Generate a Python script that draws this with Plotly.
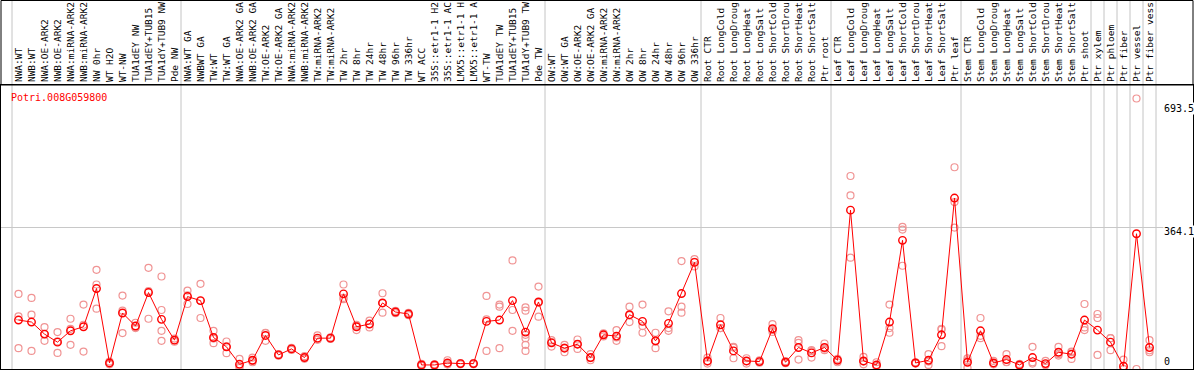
import plotly.graph_objects as go

gene = "Potri.008G059800"

labels = [
    "NWA:WT", "NWB:WT", "NWA:OE-ARK2", "NWB:OE-ARK2", "NWA:miRNA-ARK2", "NWB:miRNA-ARK2",
    "NW 0hr", "WT H2O", "WT-NW", "TUA1dEY NW", "TUA1dEY+TUB15 NW", "TUA1dY+TUB9 NW", "Pde NW",
    "NWA:WT GA", "NWBWT GA", "TW:WT", "TW:WT GA", "NWA:OE-ARK2 GA", "NWB:OE-ARK2 GA",
    "TW:OE-ARK2", "TW:OE-ARK2 GA", "NWA:miRNA-ARK2", "NWB:miRNA-ARK2", "TW:miRNA-ARK2",
    "TW:miRNA-ARK2", "TW 2hr", "TW 8hr", "TW 24hr", "TW 48hr", "TW 96hr", "TW 336hr",
    "WT ACC", "35S::etr1-1 H2O", "35S::etr1-1 ACC", "LMX5::etr1-1 H2O", "LMX5::etr1-1 ACC",
    "WT-TW", "TUA1dEY TW", "TUA1dEY+TUB15 TW", "TUA1dY+TUB9 TW", "Pde TW",
    "OW:WT", "OW:WT GA", "OW:OE-ARK2", "OW:OE-ARK2 GA", "OW:miRNA-ARK2", "OW:miRNA-ARK2",
    "OW 2hr", "OW 8hr", "OW 24hr", "OW 48hr", "OW 96hr", "OW 336hr",
    "Root CTR", "Root LongCold", "Root LongDrought", "Root LongHeat", "Root LongSalt",
    "Root ShortCold", "Root ShortDrought", "Root ShortHeat", "Root ShortSalt", "Ptr root",
    "Leaf CTR", "Leaf LongCold", "Leaf LongDrought", "Leaf LongHeat", "Leaf LongSalt",
    "Leaf ShortCold", "Leaf ShortDrought", "Leaf ShortHeat", "Leaf ShortSalt", "Ptr leaf",
    "Stem CTR", "Stem LongCold", "Stem LongDrought", "Stem LongHeat", "Stem LongSalt",
    "Stem ShortCold", "Stem ShortDrought", "Stem ShortHeat", "Stem ShortSalt", "Ptr shoot",
    "Ptr xylem", "Ptr phloem", "Ptr fiber", "Ptr vessel", "Ptr fiber vessel",
]

means = [
    125.5, 120.4, 89.5, 68.8, 98.0, 108.3, 206.3, 15.5, 143.6, 110.1, 196.0, 127.3, 74.0,
    185.7, 175.4, 80.8, 56.8, 12.1, 22.4, 86.0, 36.1, 51.6, 29.3, 79.1, 79.1, 192.6, 108.3,
    115.2, 169.4, 146.1, 141.0, 10.4, 10.4, 15.5, 13.8, 13.8, 122.1, 125.5, 175.4, 94.6, 171.9,
    67.1, 53.3, 63.6, 29.3, 87.7, 84.3, 139.2, 122.1, 72.3, 117.0, 193.4, 273.3,
    20.7, 113.5, 46.4, 20.7, 19.0, 103.2, 17.3, 55.1, 41.3, 55.1,
    22.4, 407.3, 20.7, 10.4, 120.4, 329.9, 15.5, 22.4, 87.7, 438.3,
    17.3, 98.0, 15.5, 24.2, 10.4, 29.3, 13.8, 43.0, 37.9, 125.5,
    99.8, 68.8, 7.0, 346.75, 55.1,
]

replicates = [
    [192.6, 134.9, 53.3], [182.3, 139.2, 46.4], [107.5, 72.3, 89.5], [94.6, 41.3, 70.6],
    [128.9, 62.0, 103.1], [165.1, 113.5, 44.8], [254.4, 216.6, 154.8], [12, 15, 19],
    [188.2, 149.6, 92.0], [118.6, 104.9, 106.3], [259.5, 128.9, 199.6],
    [237.2, 151.3, 98.0, 72.3], [70, 74, 78],
    [201.1, 166.7, 188.8], [218.3, 130.7, 175], [98.0, 66.2, 78], [70.5, 40.5, 58],
    [25.8, 3, 7], [29.3, 17.3, 21], [92.9, 72.3, 92], [34, 37, 38], [49, 52, 54],
    [26, 29, 33], [86.0, 76, 75], [77, 79, 81], [216.6, 182.3, 179], [113.5, 99.8, 111],
    [123.8, 106.6, 115], [194.2, 144.4, 169], [143, 146, 149], [138, 141, 144],
    [8, 10, 13], [8, 11, 12], [22.4, 12, 12], [12, 14, 15], [12, 14, 15],
    [187.4, 127.3, 46.4], [165.1, 159.9, 53.3], [278.5, 151.3, 98.0],
    [158.2, 149.6, 87.7, 79.1, 62.0, 46.4], [211.4, 134.1, 170],
    [74.0, 57.6, 69], [62.0, 43.0, 55], [75.7, 51.6, 64], [37.9, 22.4, 28],
    [91.1, 83.4, 88], [99.8, 72.3, 81], [159.9, 120.4, 138], [165.1, 110.1, 92.9],
    [92.9, 53.3, 71], [147.9, 98.0, 105], [276.7, 159.9, 144.4], [281.9, 263.0, 275],
    [29.3, 13.8, 19], [130.7, 104.9, 105], [56.8, 27.6, 55], [27.6, 13.8, 20],
    [16, 19, 22], [115.2, 100, 95], [15, 17, 20], [74.0, 24.2, 67.1], [48.2, 29.3, 46],
    [65.4, 48.2, 52],
    [25.8, 17.3, 24], [494.9, 445.1, 285.4], [31.0, 12.1, 19], [17.3, 7, 7],
    [165.1, 104.9, 92.9], [364.3, 357.4, 264.7], [14, 16, 17], [37.9, 10.4, 19],
    [103.2, 58.5, 101], [517.3, 427.9, 362.6],
    [22.4, 3, 27], [130.7, 79.1, 85], [20.7, 12, 14], [37.9, 17.3, 18], [8, 10, 13],
    [56.8, 17.3, 14], [20.7, 10, 11], [56.8, 34.5, 38], [44.8, 25.8, 43],
    [166.7, 106.6, 99.8],
    [141.0, 130.7, 36.1], [79.1, 48.2, 79], [24.2, 0, 0], [693.5, 0], [74.0, 43.0, 48],
]

# group boundaries (between columns)
group_breaks = [-0.5, 12.5, 40.5, 52.5, 62.5, 72.5, 82.5, 83.5, 84.5, 85.5, 86.5, 87.5]

# ---- geometry / style ----
W, H = 1194, 370
ml, mr, mt, mb = 1, 1, 85, 1
plot_w = W - ml - mr
plot_h = H - mt - mb
col_w = 13.0
first_center_px = 18.5
x_lo = -(first_center_px - ml) / col_w
x_hi = x_lo + plot_w / col_w

ymax = max(max(r) for r in replicates)
ytop = ymax * 1.05
ymid = ytop / 2.0
header_top = 1 + (mt - 0.5) / plot_h

mono = "DejaVu Sans Mono"
max_label_chars = 14  # header only has room for this many characters
tick_text = [s[:max_label_chars] for s in labels]

x_idx = list(range(len(labels)))
rep_x = [i for i, r in enumerate(replicates) for _ in r]
rep_y = [v for r in replicates for v in r]

fig = go.Figure()
fig.add_trace(go.Scatter(
    x=rep_x, y=rep_y, mode="markers",
    marker=dict(symbol="circle-open", size=7, color="#f09494", line=dict(width=1.2)),
    hoverinfo="skip", showlegend=False,
))
fig.add_trace(go.Scatter(
    x=x_idx, y=means, mode="lines+markers",
    line=dict(color="#ff0000", width=1),
    marker=dict(symbol="circle-open", size=7.5, color="#ff0000", line=dict(width=1.4)),
    showlegend=False,
))

shapes = []
for b in group_breaks:
    shapes.append(dict(type="line", xref="x", yref="paper", x0=b, x1=b, y0=0, y1=header_top,
                       line=dict(color="#c4c4c4", width=1), layer="below"))
shapes.append(dict(type="rect", xref="paper", yref="paper", x0=0, x1=1, y0=1, y1=header_top,
                   line=dict(color="black", width=1)))

annotations = [
    dict(text=gene, xref="paper", yref="paper", x=(9 - ml) / plot_w, y=(H - mb - 97.5) / plot_h,
         xanchor="left", yanchor="middle", showarrow=False,
         font=dict(family=mono, size=10, color="#ff0000")),
]
label_x = (1163 - ml) / plot_w
for val, txt, shift in [(ymax, f"{ymax:.1f}", -9.5), (ymid, f"{ymid:.1f}", -4.5), (0, "0", 7.5)]:
    annotations.append(dict(text=txt, xref="paper", yref="y", x=label_x, y=val, yshift=shift,
                            xanchor="left", yanchor="middle", showarrow=False, borderpad=0,
                            bgcolor="white", font=dict(family=mono, size=10, color="black")))

fig.update_layout(
    width=W, height=H,
    margin=dict(l=ml, r=mr, t=mt, b=mb, pad=0, autoexpand=False),
    paper_bgcolor="white", plot_bgcolor="white",
    shapes=shapes, annotations=annotations,
    xaxis=dict(range=[x_lo, x_hi], side="top", tickmode="array", tickvals=x_idx, ticktext=tick_text,
               tickangle=-90, tickfont=dict(family=mono, size=9.5, color="black"),
               showgrid=False, zeroline=False, ticks="", showline=True, linecolor="black",
               linewidth=1, mirror=True, ticklabelstandoff=0, automargin=False),
    yaxis=dict(range=[0, ytop], tickmode="array", tickvals=[ymid], showticklabels=False,
               showgrid=True, gridcolor="#c8c8c8", gridwidth=1, zeroline=False, ticks="",
               showline=True, linecolor="black", linewidth=1, mirror=True, automargin=False),
    hovermode=False,
)

fig.write_html("out.html", config={"displayModeBar": False},
               post_script="document.body.style.margin='0';document.body.style.overflow='hidden';")
